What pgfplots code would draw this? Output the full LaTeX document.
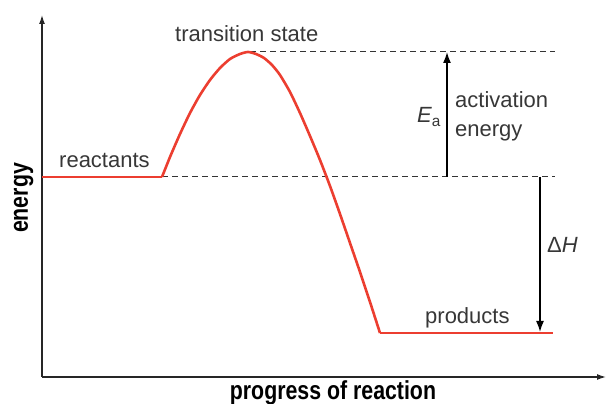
\documentclass[border=0pt]{standalone}
\usepackage{pgfplots}
\pgfplotsset{compat=1.18}
\usepackage{fontspec}
\setmainfont{Liberation Sans}
\newfontfamily\condfont[FakeStretch=0.82]{Liberation Sans}
\usetikzlibrary{arrows.meta}
\definecolor{curvered}{RGB}{236,62,48}
\definecolor{txt}{RGB}{55,55,55}
\begin{document}
\begin{tikzpicture}
\useasboundingbox (0,0) rectangle (606pt,404pt);
\begin{axis}[
  at={(42pt,27pt)}, anchor=south west,
  scale only axis, width=564pt, height=362pt,
  xmin=42, xmax=606, ymin=27, ymax=389,
  axis x line=bottom, axis y line=left,
  axis line style={line width=1.3pt, color=black!85, -{Latex[length=9pt,width=6pt]}},
  xtick=\empty, ytick=\empty,
  clip=false,
]
% dashed reference levels
\addplot[black!80, line width=1pt, dash pattern=on 6pt off 4pt] coordinates {(250,352) (555,352)};
\addplot[black!80, line width=1pt, dash pattern=on 6pt off 4pt] coordinates {(162,227) (555,227)};
% energy profile
\addplot[curvered, line width=2.6pt] coordinates {(42,227) (162,227)};
\addplot[curvered, line width=2.6pt, smooth, tension=0.4] coordinates {
 (162,227) (170,247) (180,270) (190,291) (200,309) (210,324) (220,336) (230,345) (240,350) (248,352)
 (256,350) (264,346) (272,339) (280,329) (290,312) (300,291) (310,268) (320,244) (330,218)
 (340,190) (350,161) (360,132) (370,102) (380,71)};
\addplot[curvered, line width=2.6pt] coordinates {(380,71) (553,71)};
% arrows
\addplot[black, line width=1.6pt, -{Latex[length=11pt,width=8pt]}] coordinates {(447,227) (447,352)};
\addplot[black, line width=1.6pt, -{Latex[length=11pt,width=8pt]}] coordinates {(540,227) (540,72)};
% labels
\node[anchor=base west, inner sep=0, text=txt, font=\fontsize{22}{26}\selectfont] at (axis cs:175,362) {transition state};
\node[anchor=base west, inner sep=0, text=txt, font=\fontsize{22}{26}\selectfont] at (axis cs:59,236) {reactants};
\node[anchor=base west, inner sep=0, text=txt, font=\fontsize{22}{26}\selectfont] at (axis cs:455,296) {activation};
\node[anchor=base west, inner sep=0, text=txt, font=\fontsize{22}{26}\selectfont] at (axis cs:455,267) {energy};
\node[anchor=base west, inner sep=0, text=txt, font=\fontsize{22}{26}\selectfont] at (axis cs:417,281) {\itshape E\textsubscript{\upshape a}};
\node[anchor=base west, inner sep=0, text=txt, font=\fontsize{22}{26}\selectfont] at (axis cs:547,151) {Δ\itshape H};
\node[anchor=base west, inner sep=0, text=txt, font=\fontsize{22}{26}\selectfont] at (axis cs:425,80) {products};
\node[anchor=base, inner sep=0, font=\condfont\bfseries\fontsize{26}{30}\selectfont] at (axis cs:333,4) {progress of reaction};
\node[anchor=base, inner sep=0, rotate=90, font=\condfont\bfseries\fontsize{26}{30}\selectfont] at (axis cs:28,206) {energy};
\end{axis}
\end{tikzpicture}
\end{document}
